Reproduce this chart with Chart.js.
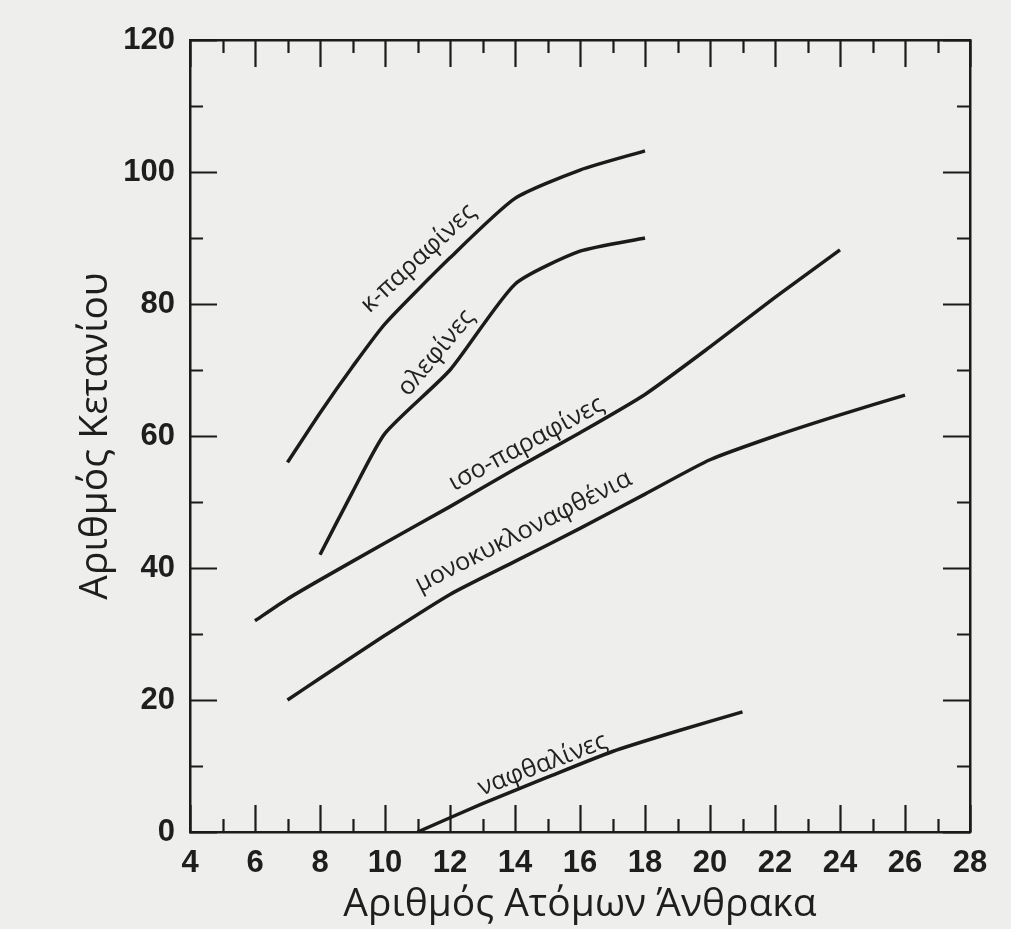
<!DOCTYPE html>
<html>
<head>
<meta charset="utf-8">
<script src="https://cdn.jsdelivr.net/npm/chart.js@4"></script>
<style>
    html, body { margin: 0; padding: 0; background: #eeeeec; }
    #wrap { width: 1011px; height: 929px; }
</style>
</head>
<body>
<div id="wrap"><canvas id="chart"></canvas></div>
<script>
// Δεδομένα (τιμές διαβασμένες από το γράφημα)
const nParaffinX = [7, 8, 9, 10, 12, 14, 16, 18];
const nParaffinY = [56, 63.5, 70.5, 77, 87, 96, 100.3, 103.2];

const olefinX = [8, 9, 10, 12, 14, 16, 18];
const olefinY = [42, 51.5, 60.4, 70, 83, 88, 90];

const isoParaffinX = [6, 7, 8, 10, 12, 14, 16, 18, 20, 22, 24];
const isoParaffinY = [32, 35.3, 38.2, 43.8, 49.3, 55, 60.5, 66.3, 73.5, 81, 88.2];

const monoNaphtheneX = [7, 8, 10, 12, 14, 16, 18, 20, 22, 24, 26];
const monoNaphtheneY = [20, 23.3, 29.8, 36, 41, 46, 51.2, 56.4, 60, 63.2, 66.2];

const naphthaleneX = [11, 13, 15, 17, 19, 21];
const naphthaleneY = [0, 4.3, 8.3, 12.2, 15.3, 18.2];

const seriesNames = ["κ-παραφίνες", "ολεφίνες", "ισο-παραφίνες", "μονοκυκλοναφθένια", "ναφθαλίνες"];

// άξονες
const xMajorTicks = [4, 6, 8, 10, 12, 14, 16, 18, 20, 22, 24, 26, 28];
const xMinorTicks = [5, 7, 9, 11, 13, 15, 17, 19, 21, 23, 25, 27];
const yMajorTicks = [0, 20, 40, 60, 80, 100, 120];
const yMinorTicks = [10, 30, 50, 70, 90, 110];

const xTitle = "Αριθμός Ατόμων Άνθρακα";
const yTitle = "Αριθμός Κετανίου";

// ετικέτες πάνω στις καμπύλες (θέση σε μονάδες αξόνων, γωνία σε μοίρες)
const curveLabels = [
    { text: seriesNames[0], x: 11.03, y: 86.9, angle: -43 },
    { text: seriesNames[1], x: 11.58, y: 72.6, angle: -50 },
    { text: seriesNames[2], x: 14.35, y: 58.8, angle: -28.5 },
    { text: seriesNames[3], x: 14.26, y: 45.5, angle: -27 },
    { text: seriesNames[4], x: 14.85, y: 10.2, angle: -21 }
];

const INK = "#1b1b1b";
const toPoints = (xs, ys) => xs.map((x, i) => ({ x, y: ys[i] }));

const seriesData = [
    toPoints(nParaffinX, nParaffinY),
    toPoints(olefinX, olefinY),
    toPoints(isoParaffinX, isoParaffinY),
    toPoints(monoNaphtheneX, monoNaphtheneY),
    toPoints(naphthaleneX, naphthaleneY)
];

const bgPlugin = {
    id: "bg",
    beforeDraw(chart) {
        const ctx = chart.ctx;
        ctx.save();
        ctx.fillStyle = "#eeeeec";
        ctx.fillRect(0, 0, chart.width, chart.height);
        ctx.restore();
    }
};

// μικρές γραμμές υποδιαίρεσης προς τα μέσα, σε όλες τις πλευρές
const insideTicks = {
    id: "insideTicks",
    afterDraw(chart) {
        const { ctx, chartArea: a, scales } = chart;
        const major = 27, minor = 13;
        ctx.save();
        ctx.strokeStyle = INK;
        ctx.lineWidth = 2.2;
        ctx.beginPath();
        const vx = (vals, len) => vals.forEach(v => {
            const px = Math.round(scales.x.getPixelForValue(v)) + 0.5;
            ctx.moveTo(px, a.bottom); ctx.lineTo(px, a.bottom - len);
            ctx.moveTo(px, a.top); ctx.lineTo(px, a.top + len);
        });
        const vy = (vals, len) => vals.forEach(v => {
            const py = Math.round(scales.y.getPixelForValue(v)) + 0.5;
            ctx.moveTo(a.left, py); ctx.lineTo(a.left + len, py);
            ctx.moveTo(a.right, py); ctx.lineTo(a.right - len, py);
        });
        vx(xMajorTicks, major);
        vx(xMinorTicks, minor);
        vy(yMajorTicks, major);
        vy(yMinorTicks, minor);
        ctx.stroke();
        ctx.restore();
    }
};

const curveLabelPlugin = {
    id: "curveLabels",
    afterDatasetsDraw(chart) {
        const { ctx, scales } = chart;
        ctx.save();
        ctx.fillStyle = "#222";
        ctx.font = "25px 'Open Sans'";
        ctx.textAlign = "center";
        ctx.textBaseline = "middle";
        curveLabels.forEach(l => {
            const px = scales.x.getPixelForValue(l.x);
            const py = scales.y.getPixelForValue(l.y);
            ctx.save();
            ctx.translate(px, py);
            ctx.rotate(l.angle * Math.PI / 180);
            ctx.fillText(l.text, 0, 0);
            ctx.restore();
        });
        ctx.restore();
    }
};

const tickFont = { family: "'Liberation Sans', Arial", size: 31, weight: "bold" };
const titleFont = { family: "'Open Sans'", size: 39 };

const ctx = document.getElementById("chart").getContext("2d");
new Chart(ctx, {
    type: "line",
    data: {
        datasets: seriesData.map((data, i) => ({
            label: seriesNames[i],
            data,
            borderColor: INK,
            borderWidth: 3.5,
            pointRadius: 0,
            tension: 0.2,
            fill: false
        }))
    },
    options: {
        responsive: true,
        maintainAspectRatio: false,
        animation: false,
        events: [],
        layout: { padding: { top: 40, right: 41, bottom: 0, left: 0 } },
        plugins: { legend: { display: false }, tooltip: { enabled: false } },
        scales: {
            x: {
                type: "linear",
                min: 4, max: 28,
                grid: { display: false },
                border: { display: true, color: INK, width: 2.5 },
                afterBuildTicks: s => { s.ticks = xMajorTicks.map(v => ({ value: v })); },
                afterFit: s => { s.height = 97; },
                ticks: {
                    autoSkip: false, maxRotation: 0, padding: 5,
                    color: "#1e1e1e",
                    font: tickFont
                },
                title: {
                    display: true, text: xTitle, color: "#1e1e1e",
                    font: titleFont,
                    padding: { top: 0, bottom: 1 }
                }
            },
            y: {
                min: 0, max: 120,
                grid: { display: false },
                border: { display: true, color: INK, width: 2.5 },
                afterBuildTicks: s => { s.ticks = yMajorTicks.map(v => ({ value: v })); },
                afterFit: s => { s.width = 190; },
                ticks: {
                    autoSkip: false, padding: 7,
                    color: "#1e1e1e",
                    font: tickFont
                },
                title: {
                    display: true, text: yTitle, color: "#1e1e1e",
                    font: titleFont,
                    padding: { top: 72, bottom: 0 }
                }
            },
            x2: {
                type: "linear", position: "top", min: 4, max: 28,
                grid: { display: false },
                ticks: { display: false },
                border: { display: true, color: INK, width: 2.5 },
                afterFit: s => { s.height = 0; }
            },
            y2: {
                type: "linear", position: "right", min: 0, max: 120,
                grid: { display: false },
                ticks: { display: false },
                border: { display: true, color: INK, width: 2.5 },
                afterFit: s => { s.width = 0; }
            }
        }
    },
    plugins: [bgPlugin, insideTicks, curveLabelPlugin]
});
</script>
</body>
</html>
